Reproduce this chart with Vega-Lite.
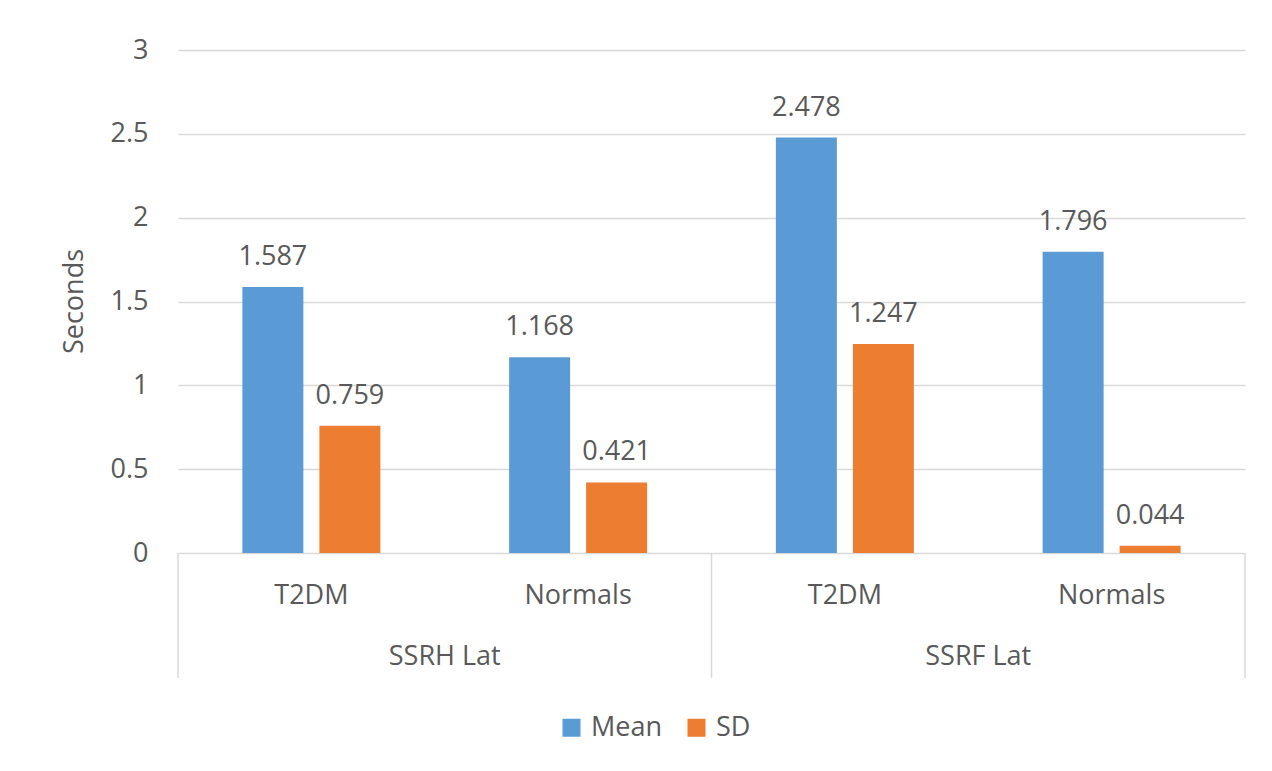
{
  "$schema": "https://vega.github.io/schema/vega-lite/v6.json",
  "width": 1067,
  "height": 628,
  "autosize": {"type": "none"},
  "padding": {"left": 178, "top": 50, "right": 27, "bottom": 93},
  "background": "white",
  "config": {
    "view": {"stroke": null},
    "font": "Open Sans",
    "text": {"font": "Open Sans", "color": "#595959"}
  },
  "data": {
    "values": [
      {"test": "SSRH Lat", "cohort": "T2DM", "pair": "SSRH Lat / T2DM", "stat": "Mean", "value": 1.587},
      {"test": "SSRH Lat", "cohort": "T2DM", "pair": "SSRH Lat / T2DM", "stat": "SD", "value": 0.759},
      {"test": "SSRH Lat", "cohort": "Normals", "pair": "SSRH Lat / Normals", "stat": "Mean", "value": 1.168},
      {"test": "SSRH Lat", "cohort": "Normals", "pair": "SSRH Lat / Normals", "stat": "SD", "value": 0.421},
      {"test": "SSRF Lat", "cohort": "T2DM", "pair": "SSRF Lat / T2DM", "stat": "Mean", "value": 2.478},
      {"test": "SSRF Lat", "cohort": "T2DM", "pair": "SSRF Lat / T2DM", "stat": "SD", "value": 1.247},
      {"test": "SSRF Lat", "cohort": "Normals", "pair": "SSRF Lat / Normals", "stat": "Mean", "value": 1.796},
      {"test": "SSRF Lat", "cohort": "Normals", "pair": "SSRF Lat / Normals", "stat": "SD", "value": 0.044}
    ]
  },
  "encoding": {
    "x": {
      "field": "pair",
      "type": "nominal",
      "sort": null,
      "axis": null,
      "scale": {"paddingInner": 0, "paddingOuter": 0}
    }
  },
  "layer": [
    {
      "mark": {"type": "bar"},
      "encoding": {
        "xOffset": {
          "field": "stat",
          "type": "nominal",
          "scale": {"paddingInner": 0.208, "paddingOuter": 0.836}
        },
        "y": {
          "field": "value",
          "type": "quantitative",
          "scale": {"domain": [-0.7455, 3], "nice": false, "zero": false},
          "axis": {
            "values": [0, 0.5, 1, 1.5, 2, 2.5, 3],
            "format": "~g",
            "title": "Seconds",
            "titleFont": "Open Sans",
            "titleFontSize": 27,
            "titleFontWeight": "normal",
            "titleColor": "#595959",
            "titleAngle": 270,
            "titleX": -104,
            "titleY": 251,
            "titleAlign": "center",
            "titleBaseline": "middle",
            "labelFont": "Open Sans",
            "labelFontSize": 27,
            "labelColor": "#595959",
            "labelPadding": 30,
            "domain": false,
            "ticks": false,
            "grid": true,
            "gridColor": "#d9d9d9",
            "gridWidth": 1.5
          }
        },
        "y2": {"datum": 0},
        "color": {
          "field": "stat",
          "type": "nominal",
          "scale": {"domain": ["Mean", "SD"], "range": ["#5B9BD5", "#ED7D31"]},
          "legend": {
            "title": null,
            "orient": "none",
            "direction": "horizontal",
            "legendX": 380,
            "legendY": 664,
            "padding": 0,
            "symbolType": "square",
            "symbolSize": 324,
            "symbolStrokeWidth": 0,
            "symbolOpacity": 1,
            "labelFont": "Open Sans",
            "labelFontSize": 27,
            "labelColor": "#595959",
            "labelOffset": 6,
            "columnPadding": 20
          }
        }
      }
    },
    {
      "mark": {"type": "text", "baseline": "alphabetic", "dy": -22, "fontSize": 27},
      "encoding": {
        "xOffset": {
          "field": "stat",
          "type": "nominal",
          "scale": {"paddingInner": 0.208, "paddingOuter": 0.836}
        },
        "y": {"field": "value", "type": "quantitative"},
        "text": {"field": "value", "type": "quantitative", "format": ".3f"}
      }
    },
    {
      "transform": [{"filter": "datum.stat === 'Mean'"}],
      "mark": {"type": "text", "baseline": "middle", "fontSize": 27},
      "encoding": {
        "y": {"datum": -0.257},
        "text": {"field": "cohort"}
      }
    },
    {
      "transform": [{"filter": "datum.stat === 'Mean' && datum.cohort === 'T2DM'"}],
      "mark": {"type": "text", "baseline": "middle", "fontSize": 27},
      "encoding": {
        "x": {"field": "pair", "type": "nominal", "sort": null, "bandPosition": 1},
        "y": {"datum": -0.62},
        "text": {"field": "test"}
      }
    },
    {
      "transform": [{"filter": "datum.stat === 'Mean' && datum.cohort === 'T2DM'"}],
      "mark": {"type": "rule", "color": "#d9d9d9", "strokeWidth": 1.5},
      "encoding": {
        "x": {"field": "pair", "type": "nominal", "sort": null, "bandPosition": 0},
        "y": {"datum": 0},
        "y2": {"datum": -0.7455}
      }
    },
    {
      "transform": [{"filter": "datum.stat === 'Mean' && datum.pair === 'SSRF Lat / Normals'"}],
      "mark": {"type": "rule", "color": "#d9d9d9", "strokeWidth": 1.5},
      "encoding": {
        "x": {"field": "pair", "type": "nominal", "sort": null, "bandPosition": 1},
        "y": {"datum": 0},
        "y2": {"datum": -0.7455}
      }
    }
  ]
}
